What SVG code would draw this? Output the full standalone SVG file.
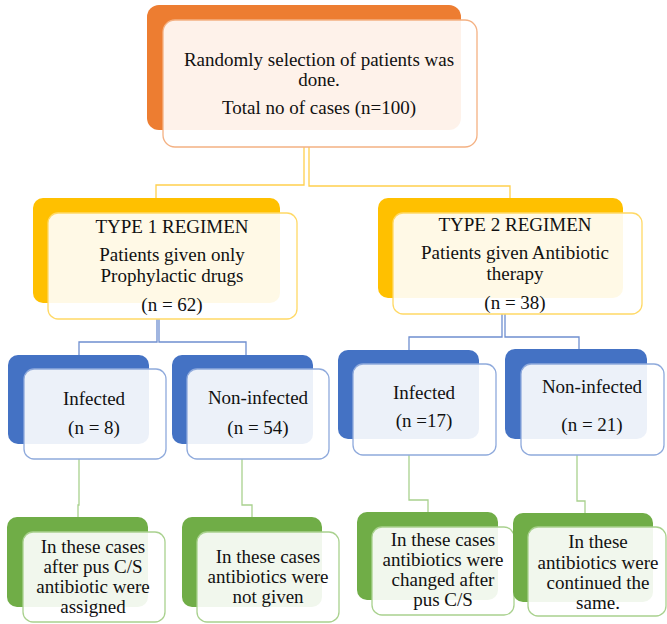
<svg xmlns="http://www.w3.org/2000/svg" width="667" height="624" viewBox="0 0 667 624">
<style>
.bg{stroke:none}
.o{fill:#ED7D31}.y{fill:#FFC000}.b{fill:#4472C4}.g{fill:#70AD47}
.fr{fill:#ffffff;fill-opacity:0.9;stroke-width:1.3}
.fo{stroke:#F4B183}.fy{stroke:#FFD966}.fb{stroke:#8FAADC}.fg{stroke:#A9D18E}
.t text{font-size:19px;fill:#111;text-anchor:middle}
.c{fill:none;stroke-width:1.3}
.cy{stroke:#FFD04D}.cb{stroke:#6F8FD0}.cg{stroke:#A9D18E}
</style>
<rect width="667" height="624" fill="#ffffff"/>
<g id="connectors">
<path class="c cy" d="M304,147 V185 H156 V198"/>
<path class="c cy" d="M309,147 V186 H510 V198"/>
<path class="c cb" d="M157,319 V342 H79 V355"/>
<path class="c cb" d="M159,319 V342 H246 V355"/>
<path class="c cb" d="M502,314 V337 H409 V350"/>
<path class="c cb" d="M505,314 V337 H579 V349"/>
<path class="c cg" d="M79,459 V505 H78 V517"/>
<path class="c cg" d="M242,459 V505 H252 V517"/>
<path class="c cg" d="M409,455 V500 H428 V512"/>
<path class="c cg" d="M577,455 V501 H585 V513"/>
</g>
<g class="t" font-family="'Liberation Serif', 'DejaVu Serif', serif">
<g id="top">
<rect class="o" x="147" y="5" width="314" height="125" rx="12"/>
<rect class="fr fo" x="163" y="20" width="314" height="127" rx="12"/>
<text x="319" y="66">Randomly selection of patients was</text>
<text x="319" y="86">done.</text>
<text x="319" y="114">Total no of cases (n=100)</text>
</g>
<g id="type1">
<rect class="y" x="33" y="198" width="247" height="105" rx="10"/>
<rect class="fr fy" x="48" y="213" width="249" height="106" rx="10"/>
<text x="172" y="233">TYPE 1 REGIMEN</text>
<text x="172" y="261">Patients given only</text>
<text x="172" y="282">Prophylactic drugs</text>
<text x="172" y="311">(n = 62)</text>
</g>
<g id="type2">
<rect class="y" x="378" y="198" width="245" height="100" rx="10"/>
<rect class="fr fy" x="393" y="213" width="249" height="101" rx="10"/>
<text x="515" y="231">TYPE 2 REGIMEN</text>
<text x="515" y="259">Patients given Antibiotic</text>
<text x="515" y="280">therapy</text>
<text x="515" y="309">(n = 38)</text>
</g>
<g id="infected1">
<rect class="b" x="8" y="355" width="141" height="89" rx="10"/>
<rect class="fr fb" x="24" y="369" width="142" height="90" rx="10"/>
<text x="94" y="405">Infected</text>
<text x="94" y="434">(n = 8)</text>
</g>
<g id="noninfected1">
<rect class="b" x="172" y="355" width="141" height="89" rx="10"/>
<rect class="fr fb" x="187" y="369" width="142" height="90" rx="10"/>
<text x="258" y="404">Non-infected</text>
<text x="258" y="434">(n = 54)</text>
</g>
<g id="infected2">
<rect class="b" x="338" y="350" width="141" height="89" rx="10"/>
<rect class="fr fb" x="353" y="364" width="143" height="91" rx="10"/>
<text x="424" y="399">Infected</text>
<text x="424" y="427">(n =17)</text>
</g>
<g id="noninfected2">
<rect class="b" x="505" y="349" width="142" height="90" rx="10"/>
<rect class="fr fb" x="521" y="364" width="143" height="91" rx="10"/>
<text x="592" y="393">Non-infected</text>
<text x="592" y="431">(n = 21)</text>
</g>
<g id="result1">
<rect class="g" x="7" y="517" width="141" height="90" rx="10"/>
<rect class="fr fg" x="23" y="532" width="142" height="90" rx="10"/>
<text x="93" y="553">In these cases</text>
<text x="93" y="573">after pus C/S</text>
<text x="93" y="593">antibiotic were</text>
<text x="93" y="613">assigned</text>
</g>
<g id="result2">
<rect class="g" x="182" y="517" width="140" height="90" rx="10"/>
<rect class="fr fg" x="197" y="532" width="142" height="90" rx="10"/>
<text x="268" y="563">In these cases</text>
<text x="268" y="583">antibiotics were</text>
<text x="268" y="603">not given</text>
</g>
<g id="result3">
<rect class="g" x="357" y="512" width="141" height="88" rx="10"/>
<rect class="fr fg" x="372" y="527" width="142" height="88" rx="10"/>
<text x="443" y="546">In these cases</text>
<text x="443" y="566">antibiotics were</text>
<text x="443" y="586">changed after</text>
<text x="443" y="606">pus C/S</text>
</g>
<g id="result4">
<rect class="g" x="513" y="513" width="140" height="89" rx="10"/>
<rect class="fr fg" x="528" y="527" width="138" height="89" rx="10"/>
<text x="598" y="548">In these</text>
<text x="598" y="569">antibiotics were</text>
<text x="598" y="589">continued the</text>
<text x="598" y="609">same.</text>
</g>
</g>
</svg>
